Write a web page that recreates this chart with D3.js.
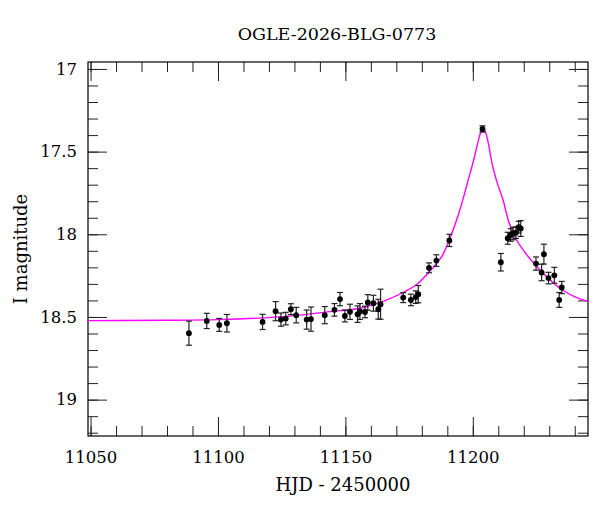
<!DOCTYPE html>
<meta charset="utf-8">
<script src="https://d3js.org/d3.v7.min.js"></script>
<style>
  body { margin: 0; background: #fff; }
  svg { display: block; }
</style>
<body>
<div id="chart"></div>
<script>

// ----- observed points: HJD - 2450000, I magnitude, error
var hjd = [11088.6, 11095.6, 11100.5, 11103.5,
  11117.5, 11122.6, 11124.7, 11126.6, 11128.6, 11130.7, 11134.8, 11136.5,
  11141.9, 11145.7, 11147.9, 11149.8, 11151.8, 11154.8, 11155.7, 11157.7,
  11158.8, 11161.0, 11162.9, 11163.8, 11172.7, 11175.7, 11177.6, 11178.6,
  11182.8, 11185.7, 11190.8, 11203.8, 11211.0, 11213.7, 11214.9, 11215.8,
  11216.9, 11218.0, 11218.8, 11224.8, 11227.0, 11227.9, 11229.7, 11232.0,
  11233.9, 11234.9]
var imag = [18.598, 18.524, 18.548, 18.538,
  18.530, 18.465, 18.516, 18.510, 18.453, 18.489, 18.516, 18.513,
  18.489, 18.457, 18.392, 18.494, 18.469, 18.483, 18.467, 18.470,
  18.412, 18.417, 18.453, 18.423, 18.383, 18.397, 18.380, 18.362,
  18.203, 18.159, 18.037, 17.363, 18.169, 18.024, 18.004, 17.995,
  17.990, 17.957, 17.965, 18.177, 18.231, 18.120, 18.265, 18.248,
  18.397, 18.322]
var ierr = [0.073, 0.046, 0.039, 0.053,
  0.046, 0.058, 0.040, 0.038, 0.033, 0.047, 0.058, 0.073,
  0.052, 0.038, 0.040, 0.036, 0.046, 0.050, 0.048, 0.035,
  0.047, 0.048, 0.060, 0.091, 0.030, 0.035, 0.038, 0.052,
  0.030, 0.035, 0.037, 0.019, 0.053, 0.036, 0.038, 0.038,
  0.035, 0.035, 0.048, 0.040, 0.050, 0.060, 0.035, 0.048,
  0.045, 0.037]

// ----- model light curve
var modelHjd = [11049, 11080, 11100, 11116, 11130, 11144, 11157, 11165.5,
  11173.4, 11178.6, 11182.5, 11186.4, 11188.2, 11190.6, 11194.3, 11196.3,
  11198.2, 11200.2, 11201.9, 11203.1, 11203.9, 11204.9, 11206.1, 11207.4,
  11209.4, 11212, 11214, 11216.5, 11220.5, 11225.1, 11230.3, 11235.5,
  11240.8, 11245.3]
var modelMag = [18.522, 18.520, 18.516, 18.507, 18.492, 18.468, 18.443, 18.401,
  18.346, 18.296, 18.235, 18.165, 18.125, 18.040, 17.883, 17.780,
  17.671, 17.560, 17.450, 17.383, 17.359, 17.379, 17.450, 17.560,
  17.680, 17.800, 17.920, 18.015, 18.110, 18.195, 18.276, 18.340,
  18.383, 18.407]

var xTicks = [11050, 11100, 11150, 11200]
var xTickLabels = ["11050", "11100", "11150", "11200"]
var yTicks = [17, 17.5, 18, 18.5, 19]
var yTickLabels = ["17", "17.5", "18", "18.5", "19"]

var title = "OGLE-2026-BLG-0773"
var xTitle = "HJD - 2450000"
var yTitle = "I magnitude"

var W = 600, H = 512
var pLeft = 88, pRight = 588, pTop = 62, pBottom = 436
var serif = "'DejaVu Serif', 'Liberation Serif', serif"

var svg = d3.select("#chart").append("svg")
  .attr("width", W)
  .attr("height", H)

var xScale = d3.scaleLinear().domain([11049, 11245.2]).range([pLeft, pRight])
var yScale = d3.scaleLinear().domain([16.958, 19.22]).range([pTop, pBottom])

var xMinor = d3.range(11050, 11241, 10)
var yMinor = d3.range(0, 23).map(function(i) { return 17 + i * 0.1 })

function styleAxis(g) {
  g.select(".domain").remove()
  g.selectAll(".tick line").attr("stroke", "#222").attr("stroke-width", 1)
  g.selectAll("text").attr("font-family", serif).attr("fill", "#000")
}

// ----- minor ticks, all four sides, pointing in
svg.append("g").attr("transform", "translate(0," + pBottom + ")")
  .call(d3.axisBottom(xScale).tickValues(xMinor).tickSize(-10).tickFormat(""))
  .call(styleAxis)
svg.append("g").attr("transform", "translate(0," + pTop + ")")
  .call(d3.axisTop(xScale).tickValues(xMinor).tickSize(-10).tickFormat(""))
  .call(styleAxis)
svg.append("g").attr("transform", "translate(" + pLeft + ",0)")
  .call(d3.axisLeft(yScale).tickValues(yMinor).tickSize(-10).tickFormat(""))
  .call(styleAxis)
svg.append("g").attr("transform", "translate(" + pRight + ",0)")
  .call(d3.axisRight(yScale).tickValues(yMinor).tickSize(-10).tickFormat(""))
  .call(styleAxis)

// ----- major ticks with labels
svg.append("g").attr("transform", "translate(0," + pBottom + ")")
  .call(d3.axisBottom(xScale).tickValues(xTicks).tickSize(-19).tickPadding(15.5)
    .tickFormat(function(d, i) { return xTickLabels[i] }))
  .call(styleAxis)
  .attr("font-size", 16.5)
svg.append("g").attr("transform", "translate(0," + pTop + ")")
  .call(d3.axisTop(xScale).tickValues(xTicks).tickSize(-19).tickFormat(""))
  .call(styleAxis)
svg.append("g").attr("transform", "translate(" + pLeft + ",0)")
  .call(d3.axisLeft(yScale).tickValues(yTicks).tickSize(-19).tickPadding(11)
    .tickFormat(function(d, i) { return yTickLabels[i] }))
  .call(styleAxis)
  .attr("font-size", 16.5)
svg.append("g").attr("transform", "translate(" + pRight + ",0)")
  .call(d3.axisRight(yScale).tickValues(yTicks).tickSize(-19).tickFormat(""))
  .call(styleAxis)

// ----- frame
svg.append("rect")
  .attr("x", pLeft).attr("y", pTop)
  .attr("width", pRight - pLeft).attr("height", pBottom - pTop)
  .attr("fill", "none").attr("stroke", "#000").attr("stroke-width", 1.2)

// ----- model curve
var plot = svg.append("g")
var model = modelHjd.map(function(d, i) { return [d, modelMag[i]] })
plot.append("path")
  .datum(model)
  .attr("fill", "none")
  .attr("stroke", "#ff00ff")
  .attr("stroke-width", 1.4)
  .attr("d", d3.line()
    .x(function(d) { return xScale(d[0]) })
    .y(function(d) { return yScale(d[1]) })
    .curve(d3.curveMonotoneX))

// ----- error bars and points
var obs = hjd.map(function(d, i) { return {t: d, m: imag[i], e: ierr[i]} })
var bars = plot.selectAll(".err").data(obs).enter().append("g")
  .attr("stroke", "#222").attr("stroke-width", 1.2)
bars.append("line")
  .attr("x1", function(d) { return xScale(d.t) })
  .attr("x2", function(d) { return xScale(d.t) })
  .attr("y1", function(d) { return yScale(d.m - d.e) })
  .attr("y2", function(d) { return yScale(d.m + d.e) })
bars.append("line")
  .attr("x1", function(d) { return xScale(d.t) - 3 })
  .attr("x2", function(d) { return xScale(d.t) + 3 })
  .attr("y1", function(d) { return yScale(d.m - d.e) })
  .attr("y2", function(d) { return yScale(d.m - d.e) })
bars.append("line")
  .attr("x1", function(d) { return xScale(d.t) - 3 })
  .attr("x2", function(d) { return xScale(d.t) + 3 })
  .attr("y1", function(d) { return yScale(d.m + d.e) })
  .attr("y2", function(d) { return yScale(d.m + d.e) })
plot.selectAll(".pt").data(obs).enter().append("circle")
  .attr("cx", function(d) { return xScale(d.t) })
  .attr("cy", function(d) { return yScale(d.m) })
  .attr("r", 2.9)
  .attr("fill", "#000")

// ----- titles
svg.append("text")
  .attr("x", 337).attr("y", 40)
  .attr("text-anchor", "middle")
  .attr("font-family", serif).attr("font-size", 17.5)
  .text(title)
svg.append("text")
  .attr("x", 343).attr("y", 490.5)
  .attr("text-anchor", "middle")
  .attr("font-family", serif).attr("font-size", 18)
  .text(xTitle)
svg.append("text")
  .attr("transform", "translate(27,249) rotate(-90)")
  .attr("text-anchor", "middle")
  .attr("font-family", serif).attr("font-size", 18)
  .text(yTitle)

</script>
</body>
